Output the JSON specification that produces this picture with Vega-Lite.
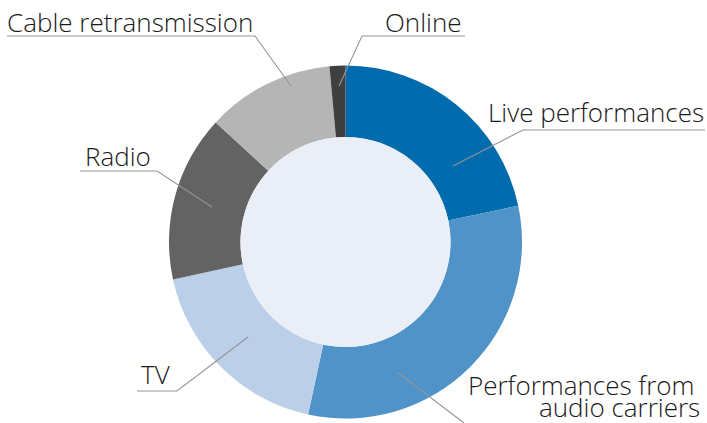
{
  "$schema": "https://vega.github.io/schema/vega-lite/v6.json",
  "width": 707,
  "height": 423,
  "padding": 0,
  "autosize": {"type": "none"},
  "background": "white",
  "config": {"view": {"stroke": null}},
  "datasets": {
    "shares": [
      {"category": "Live performances", "share": 21.7, "order": 1},
      {"category": "Performances from audio carriers", "share": 31.7, "order": 2},
      {"category": "TV", "share": 18.2, "order": 3},
      {"category": "Radio", "share": 15.25, "order": 4},
      {"category": "Cable retransmission", "share": 11.7, "order": 5},
      {"category": "Online", "share": 1.45, "order": 6}
    ],
    "leaders": [
      {"group": "Cable", "seq": 1, "x": -191.78, "y": 116.71},
      {"group": "Cable", "seq": 2, "x": -51.27, "y": 116.71},
      {"group": "Cable", "seq": 3, "x": -30.88, "y": 88.39},
      {"group": "Online", "seq": 1, "x": 67.71, "y": 116.71},
      {"group": "Online", "seq": 2, "x": 9.35, "y": 116.71},
      {"group": "Online", "seq": 3, "x": -3.68, "y": 88.39},
      {"group": "Live", "seq": 1, "x": 203.68, "y": 63.46},
      {"group": "Live", "seq": 2, "x": 100.57, "y": 63.46},
      {"group": "Live", "seq": 3, "x": 60.91, "y": 43.06},
      {"group": "Radio", "seq": 1, "x": -150.42, "y": 40.23},
      {"group": "Radio", "seq": 2, "x": -106.8, "y": 40.23},
      {"group": "Radio", "seq": 3, "x": -75.64, "y": 19.83},
      {"group": "TV", "seq": 1, "x": -118.13, "y": -84.42},
      {"group": "TV", "seq": 2, "x": -95.47, "y": -84.42},
      {"group": "TV", "seq": 3, "x": -55.24, "y": -53.82},
      {"group": "Audio", "seq": 1, "x": 29.18, "y": -73.65},
      {"group": "Audio", "seq": 2, "x": 67.14, "y": -102.55}
    ],
    "labels": [
      {"label": "Cable retransmission", "x": -191.78, "y": 118.98},
      {"label": "Online", "x": 22.38, "y": 118.98},
      {"label": "Live performances", "x": 80.74, "y": 67.99},
      {"label": "Radio", "x": -147.59, "y": 43.06},
      {"label": "TV", "x": -115.86, "y": -80.45},
      {"label": "Performances from", "x": 69.41, "y": -86.69},
      {"label": "audio carriers", "x": 109.63, "y": -99.2}
    ]
  },
  "layer": [
    {
      "data": {"name": "shares"},
      "mark": {"type": "arc", "outerRadius": 176.5, "innerRadius": 105},
      "encoding": {
        "x": {"datum": 0, "type": "quantitative", "scale": {"domain": [-195.75, 204.82], "nice": false, "zero": false}, "axis": null},
        "y": {"datum": 0, "type": "quantitative", "scale": {"domain": [-102.55, 137.11], "nice": false, "zero": false}, "axis": null},
        "theta": {"field": "share", "type": "quantitative", "stack": true},
        "order": {"field": "order", "type": "quantitative"},
        "color": {
          "field": "category",
          "type": "nominal",
          "scale": {
            "domain": ["Live performances", "Performances from audio carriers", "TV", "Radio", "Cable retransmission", "Online"],
            "range": ["#006cad", "#4f93c8", "#bccfe9", "#636363", "#b5b5b5", "#3f3f3f"]
          },
          "legend": null
        }
      }
    },
    {
      "data": {"values": [{"part": "centre"}]},
      "mark": {"type": "arc", "outerRadius": 105, "innerRadius": 0, "theta": 0, "theta2": 6.2832, "color": "#e9eef7"},
      "encoding": {
        "x": {"datum": 0, "type": "quantitative", "scale": {"domain": [-195.75, 204.82], "nice": false, "zero": false}, "axis": null},
        "y": {"datum": 0, "type": "quantitative", "scale": {"domain": [-102.55, 137.11], "nice": false, "zero": false}, "axis": null}
      }
    },
    {
      "data": {"name": "leaders"},
      "mark": {"type": "line", "color": "#959595", "strokeWidth": 1.1, "clip": false},
      "encoding": {
        "x": {"field": "x", "type": "quantitative", "scale": {"domain": [-195.75, 204.82], "nice": false, "zero": false}, "axis": null},
        "y": {"field": "y", "type": "quantitative", "scale": {"domain": [-102.55, 137.11], "nice": false, "zero": false}, "axis": null},
        "detail": {"field": "group", "type": "nominal"},
        "order": {"field": "seq", "type": "quantitative"}
      }
    },
    {
      "data": {"name": "labels"},
      "mark": {"type": "text", "align": "left", "baseline": "alphabetic", "font": "Open Sans", "fontSize": 26, "fontWeight": 300, "color": "#1a1a1a"},
      "encoding": {
        "x": {"field": "x", "type": "quantitative", "scale": {"domain": [-195.75, 204.82], "nice": false, "zero": false}, "axis": null},
        "y": {"field": "y", "type": "quantitative", "scale": {"domain": [-102.55, 137.11], "nice": false, "zero": false}, "axis": null},
        "text": {"field": "label", "type": "nominal"}
      }
    }
  ]
}
